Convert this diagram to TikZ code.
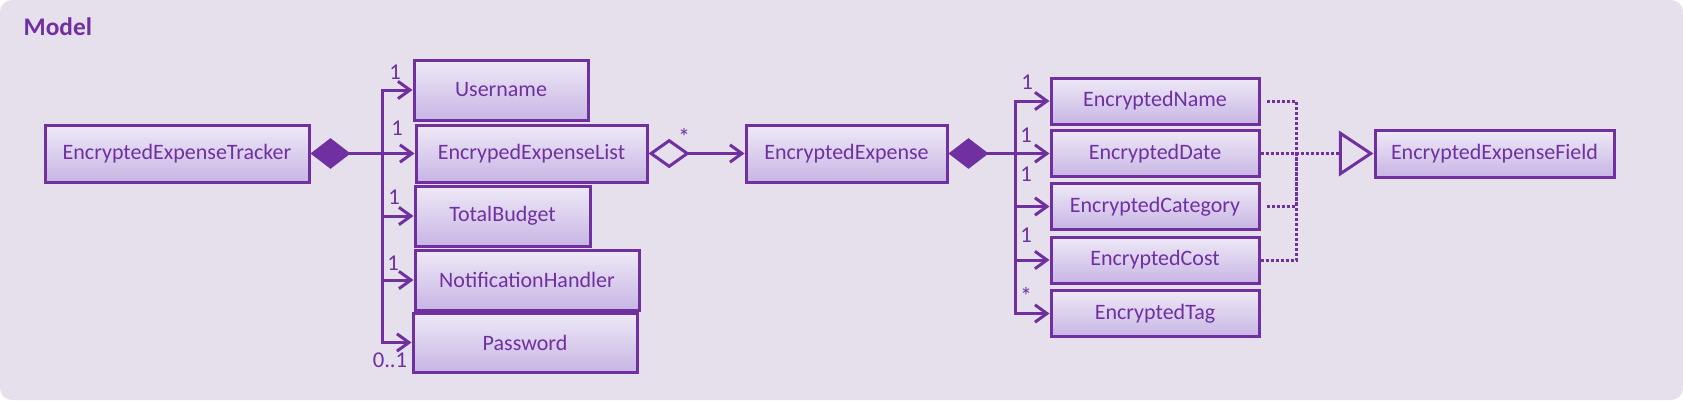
\documentclass[tikz,border=0pt]{standalone}
\usepackage{fontspec}
\setmainfont{Carlito}
\usetikzlibrary{arrows.meta}
\definecolor{umlpurple}{HTML}{7030A0}
\definecolor{panelbg}{HTML}{E5E0EC}
\definecolor{boxtop}{HTML}{EEE9F7}
\definecolor{boxbottom}{HTML}{C8B5E4}
\tikzset{
    umlclass/.style={draw=umlpurple, line width=2.25pt, top color=boxtop, bottom color=boxbottom,
        text=umlpurple, font=\fontsize{16.5}{18}\selectfont, inner sep=0pt},
    link/.style={draw=umlpurple, line width=2.25pt},
    barb/.style={-{Straight Barb[length=9pt,width=13pt]}},
    mult/.style={text=umlpurple, font=\fontsize{17}{18}\selectfont, inner sep=0pt},
    star/.style={mult, font=\fontsize{18}{18}\selectfont},
    realize/.style={draw=umlpurple, line width=2.25pt, dash pattern=on 2.25pt off 1.5pt},
}

\begin{document}
\begin{tikzpicture}[x=0.75pt,y=-0.75pt]
\fill[panelbg, rounded corners=9pt] (0,0) rectangle (1683,400);
\node[text=umlpurple, font=\fontsize{19}{21}\selectfont\bfseries, anchor=west] (title) at (19,27) {Model};

% left part
\node[umlclass, minimum width=198pt, minimum height=42.75pt] (tracker) at (177,153.5) {EncryptedExpenseTracker};
\node[umlclass, minimum width=130.5pt, minimum height=45pt] (username) at (501,90) {Username};
\node[umlclass, minimum width=173.25pt, minimum height=42.75pt] (list) at (531.5,153.5) {EncrypedExpenseList};
\node[umlclass, minimum width=131.25pt, minimum height=45pt] (budget) at (502.5,216) {TotalBudget};
\node[umlclass, minimum width=168pt, minimum height=45pt] (notif) at (527,280) {NotificationHandler};
\node[umlclass, minimum width=168pt, minimum height=44.25pt] (password) at (525,342.5) {Password};

\coordinate (jt) at (382,153.5);
\draw[link, {Diamond[length=30pt,width=23pt]}-] (tracker.east) -- (jt);
\draw[link, barb] (jt) |- (username.west);
\draw[link, barb] (jt) -- (list.west);
\draw[link, barb] (jt) |- (budget.west);
\draw[link, barb] (jt) |- (notif.west);
\draw[link, barb] (jt) |- (password.west);

\node[mult] (m1) at (395,72) {1};
\node[mult] (m2) at (397,128) {1};
\node[mult] (m3) at (394,197) {1};
\node[mult] (m4) at (393,263) {1};
\node[mult] (m5) at (390,360) {0..1};

% middle
\node[umlclass, minimum width=150.75pt, minimum height=42.75pt] (expense) at (846.5,153.5) {EncryptedExpense};
\draw[link, {Diamond[open,length=31pt,width=22pt]}-{Straight Barb[length=9pt,width=13pt]}] (list.east) -- (expense.west);
\node[star] (m6) at (684,137) {*};

% right part
\node[umlclass, minimum width=156pt, minimum height=34.5pt] (name) at (1155,101) {EncryptedName};
\node[umlclass, minimum width=156pt, minimum height=34.5pt] (date) at (1155,153.5) {EncryptedDate};
\node[umlclass, minimum width=156pt, minimum height=34.5pt] (category) at (1155,206.5) {EncryptedCategory};
\node[umlclass, minimum width=156pt, minimum height=34.5pt] (cost) at (1155,260) {EncryptedCost};
\node[umlclass, minimum width=156pt, minimum height=34.5pt] (tag) at (1155,313.5) {EncryptedTag};

\coordinate (je) at (1015,153.5);
\draw[link, {Diamond[length=30pt,width=23pt]}-] (expense.east) -- (je);
\draw[link, barb] (je) |- (name.west);
\draw[link, barb] (je) -- (date.west);
\draw[link, barb] (je) |- (category.west);
\draw[link, barb] (je) |- (cost.west);
\draw[link, barb] (je) |- (tag.west);

\node[mult] (m7) at (1027,82) {1};
\node[mult] (m8) at (1026,135) {1};
\node[mult] (m9) at (1026,174) {1};
\node[mult] (m10) at (1026,235) {1};
\node[star] (m11) at (1026,296) {*};

\node[umlclass, minimum width=179.25pt, minimum height=35.25pt] (field) at (1494.5,153.5) {EncryptedExpenseField};

\coordinate (jf) at (1296,153.5);
\draw[realize, shorten <=5pt] (name.east) -| (jf);
\draw[realize] (date.east) -- (jf);
\draw[realize, shorten <=5pt] (category.east) -| (jf);
\draw[realize] (cost.east) -| (jf);
\draw[realize, -{Triangle[open,length=26pt,width=34pt]}] (jf) -- (field.west);
\end{tikzpicture}
\end{document}
